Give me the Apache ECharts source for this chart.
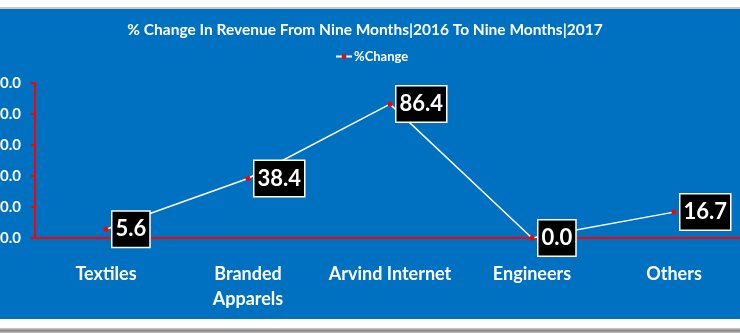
<!DOCTYPE html>
<html>
<head>
<meta charset="utf-8">
<script src="https://cdn.jsdelivr.net/npm/echarts@6/dist/echarts.min.js"></script>
<style>
  html, body { margin: 0; padding: 0; background: #ffffff; }
  #chart { width: 740px; height: 333px; }
</style>
</head>
<body>
<div id="chart"></div>
<script>
// Segment revenue growth, nine months 2016 vs nine months 2017
const categories = ['Textiles', 'Branded\nApparels', 'Arvind Internet', 'Engineers', 'Others'];
const pctChange = [5.6, 38.4, 86.4, 0.0, 16.7];
const yTicks = { min: 0, max: 100, interval: 20 };

const BLUE = '#0070C0';
const FONT = 'Lato, "Open Sans", sans-serif';

const chart = echarts.init(document.getElementById('chart'), null, { renderer: 'canvas' });

chart.setOption({
  backgroundColor: BLUE,
  animation: false,
  title: {
    text: '% Change In Revenue From Nine Months|2016 To Nine Months|2017',
    left: 360,
    textAlign: 'center',
    top: 17,
    textStyle: { color: '#ffffff', fontFamily: FONT, fontWeight: 'bold', fontSize: 15.5 }
  },
  legend: {
    data: ['%Change'],
    left: 330,
    top: 45,
    itemWidth: 16,
    itemHeight: 6,
    itemGap: 2,
    textStyle: { color: '#ffffff', fontFamily: FONT, fontWeight: 'bold', fontSize: 13, padding: [0, 0, 0, -3] }
  },
  grid: { left: 35, right: -5, top: 83, bottom: 95, containLabel: false, outerBoundsMode: 'none' },
  xAxis: {
    type: 'category',
    data: categories,
    boundaryGap: true,
    axisLine: { lineStyle: { color: '#ff0000', width: 2 } },
    axisTick: { show: false },
    axisLabel: {
      color: '#ffffff', fontFamily: FONT, fontWeight: 'bold', fontSize: 18,
      margin: 24, lineHeight: 25, interval: 0
    }
  },
  yAxis: {
    type: 'value',
    min: yTicks.min,
    max: yTicks.max,
    interval: yTicks.interval,
    splitLine: { show: false },
    axisLine: { show: true, lineStyle: { color: '#ff0000', width: 2 } },
    axisTick: { show: true, length: 4, lineStyle: { color: '#ff0000', width: 2 } },
    axisLabel: {
      color: '#ffffff', fontFamily: FONT, fontWeight: 'bold', fontSize: 15, margin: 14,
      formatter: v => v.toFixed(1)
    }
  },
  series: [{
    name: '%Change',
    type: 'line',
    data: pctChange,
    symbol: 'circle',
    symbolSize: 5,
    itemStyle: { color: '#ff0000' },
    lineStyle: { color: '#ffffff', width: 1.5 },
    label: {
      show: true,
      position: 'right',
      distance: 4,
      formatter: p => p.value.toFixed(1),
      color: '#ffffff',
      fontFamily: FONT,
      fontWeight: 'bold',
      fontSize: 22,
      backgroundColor: '#000000',
      borderColor: '#ffffff',
      borderWidth: 1.5,
      padding: [7, 3, 6, 3]
    },
    z: 3
  }],
  graphic: [
    { type: 'rect', shape: { x: 0, y: 0, width: 740, height: 8 }, style: { fill: '#ffffff' }, silent: true },
    { type: 'rect', shape: { x: 0, y: 7, width: 740, height: 2 }, style: { fill: '#c8c8c8' }, silent: true },
    { type: 'rect', shape: { x: 0, y: 319, width: 740, height: 10 }, style: { fill: '#ffffff' }, silent: true },
    { type: 'rect', shape: { x: 0, y: 328, width: 740, height: 5 },
      style: { fill: new echarts.graphic.LinearGradient(0, 0, 0, 1, [
        { offset: 0, color: '#d0d0d0' }, { offset: 0.5, color: '#8a8a8a' }, { offset: 1, color: '#bdbdbd' }
      ]) }, silent: true }
  ]
});
</script>
</body>
</html>
